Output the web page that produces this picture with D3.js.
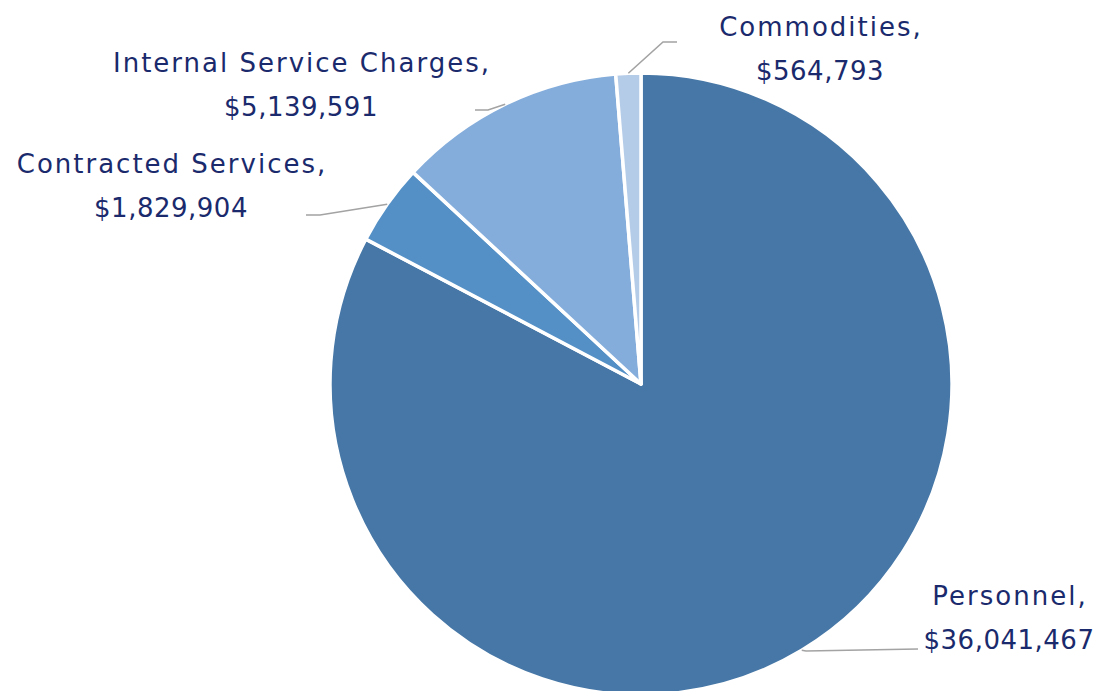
<!DOCTYPE html>
<html>
<head>
<meta charset="utf-8">
<script src="https://cdn.jsdelivr.net/npm/d3@7"></script>
<style>
  html, body { margin: 0; padding: 0; background: #fff; }
  svg { display: block; }
  .lbl { font-family: "DejaVu Sans", "Open Sans", sans-serif; fill: #1a2a6c; }
  .lbl .name { letter-spacing: 2px; }
  .lbl .amt { letter-spacing: 0.5px; }
</style>
</head>
<body>
<svg id="chart" width="1100" height="691"></svg>
<script>
// Expense categories and amounts (clockwise from 12 o'clock)
const categories = ["Personnel", "Contracted Services", "Internal Service Charges", "Commodities"];
const amounts = [36041467, 1829904, 5139591, 564793];
const colors = ["#4677a6", "#5490c6", "#84addb", "#b5cce8"];

// Label placement: text centre, leader elbow and end
const labelLayout = [
  { tx: 1009, ty: 605, elbow: [806, 651], end: [918, 649] },
  { tx: 171,  ty: 173, elbow: [320, 215], end: [306, 215] },
  { tx: 301,  ty: 72,  elbow: [488, 110], end: [475, 110] },
  { tx: 820,  ty: 36,  elbow: [663, 42],  end: [677, 42] }
];

const cx = 641, cy = 384, radius = 311;
const svg = d3.select("#chart");
const g = svg.append("g").attr("transform", `translate(${cx},${cy})`);

const data = categories.map((c, i) => ({ name: c, value: amounts[i], color: colors[i], layout: labelLayout[i] }));

const pie = d3.pie().sort(null).value(d => d.value);
const arcs = pie(data);
const arc = d3.arc().innerRadius(0).outerRadius(radius);

g.selectAll("path.slice")
  .data(arcs)
  .join("path")
  .attr("class", "slice")
  .attr("d", arc)
  .attr("fill", d => d.data.color)
  .attr("stroke", "#fff")
  .attr("stroke-width", 3.5)
  .attr("stroke-linejoin", "round");

const fmt = d3.format("$,");

// Leader lines from the slice edge at its mid-angle, then the two-line labels
arcs.forEach(a => {
  const mid = (a.startAngle + a.endAngle) / 2;
  const sx = cx + radius * Math.sin(mid);
  const sy = cy - radius * Math.cos(mid);
  const L = a.data.layout;
  svg.append("polyline")
    .attr("points", [[sx, sy], L.elbow, L.end].map(p => p.join(",")).join(" "))
    .attr("fill", "none")
    .attr("stroke", "#a3a3a3")
    .attr("stroke-width", 1.6);

  const t = svg.append("text")
    .attr("class", "lbl")
    .attr("text-anchor", "middle")
    .attr("font-size", 26);
  t.append("tspan").attr("class", "name").attr("x", L.tx + 1).attr("y", L.ty).text(a.data.name + ",");
  t.append("tspan").attr("class", "amt").attr("x", L.tx).attr("y", L.ty + 44).text(fmt(a.data.value));
});
</script>
</body>
</html>
